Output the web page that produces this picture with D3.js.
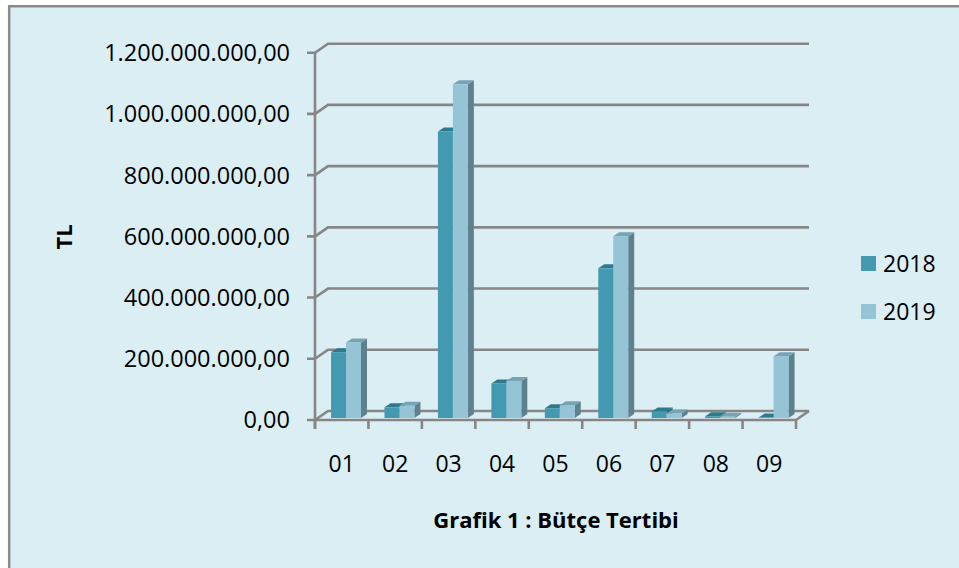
<!DOCTYPE html>
<meta charset="utf-8">
<head>
    <script src="https://d3js.org/d3.v7.min.js"></script>
    <style>
        body { margin: 0; background: #ffffff; }
        text { font-family: "Open Sans", sans-serif; fill: #000; }
    </style>
</head>
<body>
    <div id="graph"></div>

<script>
    // data
    var categories = ["01", "02", "03", "04", "05", "06", "07", "08", "09"];
    var series = ["2018", "2019"];
    var values2018 = [215e6, 35e6, 936e6, 113e6, 32e6, 489e6, 21e6, 6e6, 1.5e6];
    var values2019 = [247e6, 40e6, 1090e6, 121e6, 42e6, 594e6, 15e6, 4e6, 202e6];
    var yTicks = [0, 200e6, 400e6, 600e6, 800e6, 1000e6, 1200e6];

    var width = 959, height = 568;

    // 3d offsets: back wall, bar front face, bar depth
    var back = {dx: 13, dy: -9};
    var front = {dx: 4.3, dy: -2};
    var depth = {dx: 6, dy: -4};

    var colors = {
        "2018": {front: "#4299b0", top: "#2e7a8d", side: "#2f6e7f"},
        "2019": {front: "#94c4d6", top: "#78a3b3", side: "#5e818e"}
    };
    var gridColor = "#868686";

    var trLocale = d3.formatLocale({decimal: ",", thousands: ".", grouping: [3], currency: ["", " TL"]});
    var fmt = trLocale.format(",.2f");

    var svg = d3.select("#graph")
      .append("svg")
        .attr("width", width)
        .attr("height", height);

    // background + border (only top and left edges visible)
    svg.append("rect")
        .attr("x", 8).attr("y", 5)
        .attr("width", width).attr("height", height)
        .attr("fill", "#daeef3");
    svg.append("path")
        .attr("d", "M9.2," + height + "V6.2H" + width)
        .attr("fill", "none")
        .attr("stroke", "#8a8a8a")
        .attr("stroke-width", 2.5);

    // scales
    var x = d3.scaleBand()
        .domain(categories)
        .range([315, 796])
        .paddingInner(0.44)
        .paddingOuter(0.22);
    var xPlane = d3.scaleBand()
        .domain(categories)
        .range([315, 796]);
    var xSeries = d3.scaleBand()
        .domain(series)
        .range([0, x.bandwidth()]);
    var y = d3.scaleLinear()
        .domain([0, 1200e6])
        .range([420, 52.7]);

    var x0 = xPlane.range()[0], x1 = xPlane.range()[1];

    // back wall gridlines with diagonals to the axis
    var grid = svg.append("g")
        .attr("fill", "none")
        .attr("stroke", gridColor)
        .attr("stroke-width", 2.6);
    yTicks.forEach(function(t) {
        grid.append("path")
            .attr("d", "M" + (x0 - 8) + "," + y(t) + "H" + x0 +
                "L" + (x0 + back.dx) + "," + (y(t) + back.dy) +
                "H" + (x1 + back.dx));
    });

    // floor front edge and right diagonal
    grid.append("path")
        .attr("d", "M" + x0 + "," + y(0) + "H" + x1 +
            "L" + (x1 + back.dx) + "," + (y(0) + back.dy));
    // y axis line
    grid.append("path")
        .attr("d", "M" + x0 + "," + y(1200e6) + "V" + (y(0) + 9));
    // category ticks
    var bounds = categories.map(function(c) { return xPlane(c); }).concat([x1]);
    bounds.forEach(function(b) {
        grid.append("path")
            .attr("d", "M" + b + "," + y(0) + "V" + (y(0) + 9));
    });

    // y tick labels
    svg.append("g")
        .selectAll("text")
        .data(yTicks)
        .enter()
        .append("text")
        .attr("x", 290)
        .attr("y", function(d) { return y(d); })
        .attr("dy", "0.36em")
        .attr("text-anchor", "end")
        .style("font-size", "23.5px")
        .text(function(d) { return fmt(d); });

    // x labels
    svg.append("g")
        .selectAll("text")
        .data(categories)
        .enter()
        .append("text")
        .attr("x", function(d) { return xPlane(d) + xPlane.bandwidth() / 2; })
        .attr("y", 464)
        .attr("dy", "0.36em")
        .attr("text-anchor", "middle")
        .style("font-size", "23px")
        .text(function(d) { return d; });

    // 3d bars
    var bars = [];
    categories.forEach(function(c, i) {
        bars.push({cat: c, s: "2018", v: values2018[i]});
        bars.push({cat: c, s: "2019", v: values2019[i]});
    });

    var gBars = svg.append("g");
    bars.forEach(function(d) {
        var xl = x(d.cat) + xSeries(d.s) + front.dx;
        var xr = xl + xSeries.bandwidth();
        var yb = y(0) + front.dy;
        var yt = y(d.v) + front.dy;
        var col = colors[d.s];
        var g = gBars.append("g");
        // side face
        g.append("path")
            .attr("d", "M" + xr + "," + yt + "L" + (xr + depth.dx) + "," + (yt + depth.dy) +
                "V" + (yb + depth.dy) + "L" + xr + "," + yb + "Z")
            .attr("fill", col.side);
        // top face
        g.append("path")
            .attr("d", "M" + xl + "," + yt + "L" + (xl + depth.dx) + "," + (yt + depth.dy) +
                "H" + (xr + depth.dx) + "L" + xr + "," + yt + "Z")
            .attr("fill", col.top);
        // front face
        g.append("rect")
            .attr("x", xl)
            .attr("y", yt)
            .attr("width", xSeries.bandwidth())
            .attr("height", Math.max(0, yb - yt))
            .attr("fill", col.front);
    });

    // axis titles
    svg.append("text")
        .attr("transform", "translate(64,237) rotate(-90)")
        .attr("text-anchor", "middle")
        .attr("dy", "0.36em")
        .style("font-size", "22px")
        .style("font-weight", "bold")
        .text("TL");

    svg.append("text")
        .attr("x", 556)
        .attr("y", 528)
        .attr("text-anchor", "middle")
        .style("font-size", "22px")
        .style("font-weight", "bold")
        .text("Grafik 1 : Bütçe Tertibi");

    // legend
    var legend = svg.append("g")
        .selectAll("g")
        .data(series)
        .enter()
        .append("g")
        .attr("transform", function(d, i) { return "translate(861," + (256 + i * 48) + ")"; });
    legend.append("rect")
        .attr("width", 15)
        .attr("height", 15)
        .attr("fill", function(d) { return colors[d].front; });
    legend.append("text")
        .attr("x", 22)
        .attr("y", 7.5)
        .attr("dy", "0.36em")
        .style("font-size", "23px")
        .text(function(d) { return d; });
</script>
</body>
